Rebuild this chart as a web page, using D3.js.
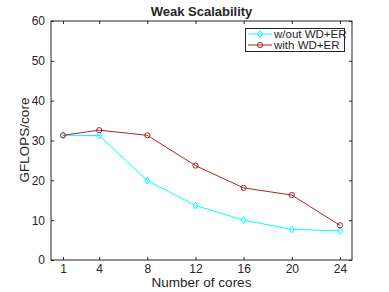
<!DOCTYPE html>
<html><head><meta charset="utf-8">
<script src="https://cdn.jsdelivr.net/npm/d3@7"></script>
<style>body{margin:0;background:#fff}svg{display:block}text{font-family:"Liberation Sans",Arial,sans-serif;fill:#262626}</style>
</head><body>
<svg id="c" width="389" height="292"></svg>
<script>
const cores = [1, 4, 8, 12, 16, 20, 24];
const withoutWDER = [31.3, 31.25, 19.9, 13.7, 10.0, 7.7, 7.3];
const withWDER = [31.3, 32.6, 31.3, 23.7, 18.1, 16.3, 8.7];
const yTicks = [0, 10, 20, 30, 40, 50, 60];
const seriesNames = ["w/out WD+ER", "with WD+ER"];

const svg = d3.select("#c");
const L = 51, R = 352, T = 21, B = 260;
const x = d3.scaleLinear().domain([0, 25]).range([L, R]);
const y = d3.scaleLinear().domain([0, 60]).range([B, T]);
const axisColor = "#262626";

svg.append("rect").attr("x", L).attr("y", T).attr("width", R - L).attr("height", B - T)
  .attr("fill", "none").attr("stroke", axisColor).attr("stroke-width", 1);

const ax = [
  svg.append("g").attr("transform", `translate(0,${B})`).call(d3.axisBottom(x).tickValues(cores).tickSize(-3).tickPadding(4.5)),
  svg.append("g").attr("transform", `translate(0,${T})`).call(d3.axisTop(x).tickValues(cores).tickSize(-3).tickFormat("")),
  svg.append("g").attr("transform", `translate(${L},0)`).call(d3.axisLeft(y).tickValues(yTicks).tickSize(-3).tickPadding(6)),
  svg.append("g").attr("transform", `translate(${R},0)`).call(d3.axisRight(y).tickValues(yTicks).tickSize(-3).tickFormat(""))
];
ax.forEach(g => {
  g.select(".domain").remove();
  g.selectAll("line").attr("stroke", axisColor);
  g.selectAll("text").attr("font-size", 12).attr("fill", axisColor).style("font-family", '"Liberation Sans",Arial,sans-serif');
});

const line = d3.line().x((d, i) => x(cores[i])).y(d => y(d));
const colors = ["#00FFFF", "#B22222"];
const data = [withoutWDER, withWDER];

data.forEach((s, k) => {
  svg.append("path").datum(s).attr("d", line).attr("fill", "none")
    .attr("stroke", colors[k]).attr("stroke-width", 1);
});
function marker(g, k, cx, cy) {
  if (k === 0) {
    g.append("path").attr("d", `M${cx},${cy-3.5}L${cx+2.5},${cy}L${cx},${cy+3.5}L${cx-2.5},${cy}Z`)
      .attr("fill", "none").attr("stroke", colors[k]).attr("stroke-width", 1);
  } else {
    g.append("circle").attr("cx", cx).attr("cy", cy).attr("r", 2.6)
      .attr("fill", "none").attr("stroke", colors[k]).attr("stroke-width", 1);
  }
}
data.forEach((s, k) => {
  const g = svg.append("g");
  s.forEach((v, i) => marker(g, k, x(cores[i]), y(v)));
});

const lg = svg.append("g");
lg.append("rect").attr("x", 245.5).attr("y", 28.5).attr("width", 99).attr("height", 23)
  .attr("fill", "#fff").attr("stroke", axisColor).attr("stroke-width", 1);
seriesNames.forEach((n, k) => {
  const ly = 34 + k * 11;
  lg.append("line").attr("x1", 248).attr("x2", 272).attr("y1", ly).attr("y2", ly)
    .attr("stroke", colors[k]).attr("stroke-width", 1);
  marker(lg, k, 260, ly);
  lg.append("text").attr("x", 274).attr("y", ly + 4).attr("font-size", 11.5).text(n);
});

svg.append("text").attr("x", 201.5).attr("y", 16).attr("text-anchor", "middle")
  .attr("font-size", 13).attr("font-weight", "bold").attr("fill", "#000").text("Weak Scalability");
svg.append("text").attr("x", 201.5).attr("y", 287).attr("text-anchor", "middle")
  .attr("font-size", 13.5).text("Number of cores");
svg.append("text").attr("transform", "translate(29,140) rotate(-90)").attr("text-anchor", "middle")
  .attr("font-size", 13.5).text("GFLOPS/core");
</script>
</body></html>
